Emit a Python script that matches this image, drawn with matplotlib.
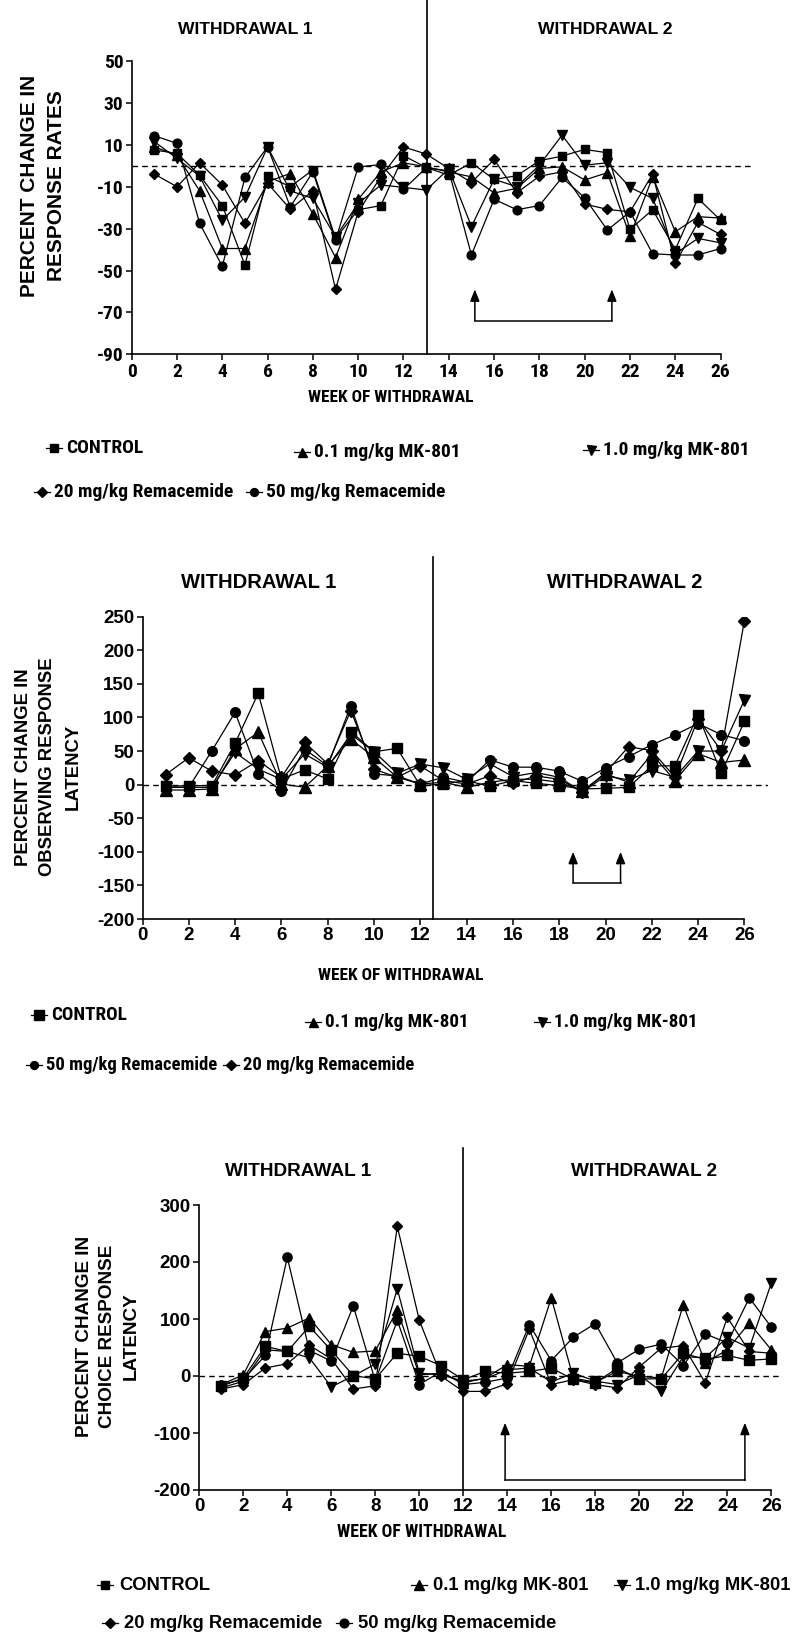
import matplotlib
matplotlib.use('Agg')
import matplotlib.pyplot as plt
from matplotlib import font_manager
import numpy as np

# ---- data ----
weeks = np.arange(1, 27)
labels = ['CONTROL', '0.1 mg/kg MK-801', '1.0 mg/kg MK-801',
          '20 mg/kg Remacemide', '50 mg/kg Remacemide']

# percent change in response rates
rate_control = [7.5, 5.9, -4.5, -19, -47.4, -5, -10, -2, -34.7, -21, -19, 4.8, -0.8,
                -4.5, 1.4, -6.5, -4.8, 2.4, 4.6, 7.8, 6.2, -30.4, -21, -40, -15.6, -26]
rate_mk01 = [9, 5, -12, -39.5, -39.5, -7.6, -3.7, -23, -43.8, -16, -2.9, 1.4, -0.5,
             -3, -5.3, -13, -10.8, -1.3, -0.5, -6.8, -3.3, -33.6, -5.3, -31.5, -24.3, -25]
rate_mk10 = [11.5, 3.5, -5, -26, -15, 9, -12, -15.6, -34, -18, -9.2, -10.3, -11.6,
             -1.5, -29, -6.5, -10, 0.3, 14.6, 0.3, 1.4, -10.3, -15.6, -42, -34.7, -36.8]
rate_rem20 = [-4, -10, 1.4, -9.2, -27.5, -8.4, -20.7, -12, -59, -22, -5.3, 9, 5.6,
              -1.3, -8, 3, -12.9, -5, -2.9, -18.3, -20.8, -22, -4, -46.6, -27, -32.8]
rate_rem50 = [14.3, 10.7, -27.5, -48, -5.6, 9, -19.6, -3, -35.5, -0.6, 0.6, -11.3, -1,
              -2.4, -42.6, -16, -21, -19, -5.6, -15.3, -30.7, -22, -42, -42.6, -42.6, -39.5]

# percent change in observing response latency
obs_control = [-2.5, -1.5, -1.5, 61.5, 136, 8.4, 22, 8.4, 79, 49, 54, -1.5, 1,
               6, -2.5, 6, 2, -1.5, -6.4, -5.5, -4, 28, 28, 104, 17, 94]
obs_mk01 = [-8, -8, -6.4, 53, 78, 1, -4, 28, 68, 40.7, 11, 1, 3.5,
            -4, 3.5, 8, 8, 3.5, -9, 16, 3.5, 45.6, 6, 46, 33, 36.7]
obs_mk10 = [-4, -4, -4, 48, 23, 8, 45.6, 26, 75, 49, 17, 30.7, 25,
            8, 31, 12, 18, 11, -11, 13, 7, 21, 11, 50, 50, 126]
obs_rem20 = [15, 40, 20, 14.4, 35.7, 11, 63, 31, 110, 23, 11, 28, 6,
             1, 13, 2, 13, 8, -11, 18, 56.5, 50.6, 11, 98, 50.6, 244]
obs_rem50 = [-4, -4, 50.6, 107.6, 16, -9, 53, 28, 117.6, 16, 13, 1, 11,
             3.5, 37, 26, 26, 20, 5, 25, 41.7, 59.5, 74, 91, 74.4, 65.5]

# percent change in choice response latency
cho_control = [-18, -3.5, 52, 43, 87, 45, 0.6, -5, 40, 34.5, 18, -6.4, 8,
               5, 8, 14, -6, -12, 14, -5, -5, 40, 29, 36, 27.5, 30]
cho_mk01 = [-15, 2, 78, 84, 102, 55, 41.5, 44, 116, 2, 5, -12, -3.5,
            20, 17, 137, -3.5, -11, 8, -0.6, -3.5, 125, 23, 46, 93, 46]
cho_mk10 = [-21, -9, 46, 43, 32, -19, 0, 21, 153, 5, 2, -9, -5,
            11, 14, -10.5, 5, -9, -15, 2, -27, 34, 32, 68, 49, 163]
cho_rem20 = [-23, -15, 14, 21.6, 54, 30, -23, -17, 262.6, 97.7, -0.6, -27, -27,
             -13.5, 82, -15, -6.4, -15, -21, 16, 49, 53, -12, 103, 43, 40]
cho_rem50 = [-15, -6, 36, 208, 45, 26, 123, -9, 97.7, -15, 8, -15, -11,
             -3.5, 90, 27, 68, 92, 23, 47, 56, 18, 74, 58, 137, 86]

# withdrawal split and treatment brackets
split_weeks = [13.05, 12.55, 12.0]
bracket_weeks = [(15.15, 21.2), (18.6, 20.65), (13.9, 24.8)]
bracket_vals = [(-74, -59), (-146, -100), (-183, -82)]

# ---- fonts ----
plt.rcParams['axes.unicode_minus'] = False
W, H = 801, 1636
names = {f.name for f in font_manager.fontManager.ttflist}
REG = 'Liberation Sans' if 'Liberation Sans' in names else 'DejaVu Sans'


def find_condensed():
    found = {}
    for f in font_manager.fontManager.ttflist:
        st = str(f.stretch)
        if 'Narrow' in f.name or 'Condensed' in f.name or 'condensed' in st:
            found.setdefault(f.name, set()).add(st)
    prefs = ['Liberation Sans Narrow', 'Arial Narrow', 'Nimbus Sans Narrow', 'Roboto Condensed',
             'Noto Sans Condensed', 'Open Sans Condensed', 'Noto Sans', 'Open Sans', 'DejaVu Sans Condensed',
             'DejaVu Sans']
    for p in prefs:
        if p in found:
            st = next((s for s in found[p] if 'condensed' in s), 'normal')
            return p, st
    return None, 'normal'


NAR, NST = find_condensed()
if NAR is None:
    NAR, NST = ('Lato' if 'Lato' in names else REG), 'normal'
    nar_scale = 0.9
else:
    nar_scale = 1.0

mk = ['s', '^', 'v', 'D', 'o']
msz = {'s': 6.3, '^': 7.2, 'v': 7.2, 'D': 5.2, 'o': 6.3}

fig = plt.figure(figsize=(W / 100, H / 100), dpi=100)


def panel(x0, xs, ytop, ybot, ylim, yticks, xmax, narrow, ticksize, data, split, bw, bv, vtop, ms):
    ax = fig.add_axes([x0 / W, 1 - ybot / H, xmax * xs / W, (ybot - ytop) / H])
    ax.set_xlim(0, xmax)
    ax.set_ylim(*ylim)
    for s in ['top', 'right']:
        ax.spines[s].set_visible(False)
    ax.spines['left'].set_linewidth(1.2)
    ax.spines['bottom'].set_linewidth(1.2)
    ax.spines['bottom'].set_bounds(0, 26)
    ax.set_xticks(range(0, 27, 2))
    ax.set_yticks(yticks)
    ax.tick_params(direction='out', length=4, width=1.1, pad=2, labelsize=ticksize)
    for t in ax.get_xticklabels() + ax.get_yticklabels():
        if narrow:
            t.set_fontfamily(NAR)
            t.set_fontstretch(NST)
        else:
            t.set_fontfamily(REG)
        t.set_fontweight('bold')
    ax.axhline(0, color='black', lw=1, ls=(0, (4, 3)), zorder=1)
    for vals, m in zip(data, mk):
        ax.plot(weeks, vals, color='black', lw=0.9, marker=m, ms=msz[m] * ms,
                mfc='black', mec='black', zorder=3)
    ax.plot([split, split], [ylim[0], vtop], color='black', lw=1.2, clip_on=False, zorder=2)
    for xw in bw:
        ax.annotate('', xy=(xw, bv[1]), xytext=(xw, bv[0]),
                    arrowprops=dict(arrowstyle='-|>,head_length=0.7,head_width=0.28',
                                    color='black', lw=1.1, shrinkA=0, shrinkB=0))
    ax.plot(bw, [bv[0], bv[0]], color='black', lw=1.1)
    return ax


panel(131.7, 22.65, 61, 354.3, (-90, 50), range(-90, 51, 20), 27.4, True, 14 * nar_scale,
      [rate_control, rate_mk01, rate_mk10, rate_rem20, rate_rem50],
      split_weeks[0], bracket_weeks[0], bracket_vals[0], 79, 1.0)
panel(142.5, 23.15, 616.7, 919, (-200, 250), range(-200, 251, 50), 27.0, False, 13.5,
      [obs_control, obs_mk01, obs_mk10, obs_rem20, obs_rem50],
      split_weeks[1], bracket_weeks[1], bracket_vals[1], 339, 1.1)
panel(199.3, 22.0, 1205, 1490, (-200, 300), range(-200, 301, 100), 26.4, False, 13.5,
      [cho_control, cho_mk01, cho_mk10, cho_rem20, cho_rem50],
      split_weeks[2], bracket_weeks[2], bracket_vals[2], 400, 1.05)

# ---- overlay for titles, axis labels and legends (pixel coords) ----
lay = fig.add_axes([0, 0, 1, 1])
lay.set_xlim(0, W)
lay.set_ylim(H, 0)
lay.axis('off')


def txt(x, y, s, size, narrow=False, **kw):
    if narrow:
        lay.text(x, y, s, fontsize=size * nar_scale, family=NAR, stretch=NST, weight='bold',
                 va='center', **kw)
    else:
        lay.text(x, y, s, fontsize=size, family=REG, weight='bold', va='center', **kw)


# titles
txt(245, 29, 'WITHDRAWAL 1', 12.6, ha='center')
txt(605, 29, 'WITHDRAWAL 2', 12.6, ha='center')
txt(259, 582, 'WITHDRAWAL 1', 14.5, ha='center')
txt(625, 582, 'WITHDRAWAL 2', 14.5, ha='center')
txt(298, 1172, 'WITHDRAWAL 1', 13.7, ha='center')
txt(644, 1172, 'WITHDRAWAL 2', 13.7, ha='center')

# x labels
txt(391, 398, 'WEEK OF WITHDRAWAL', 12.5, True, ha='center')
txt(401, 975, 'WEEK OF WITHDRAWAL', 12.5, True, ha='center')
txt(422, 1532, 'WEEK OF WITHDRAWAL', 12.8, True, ha='center')

# y labels
txt(43, 186, 'PERCENT CHANGE IN\nRESPONSE RATES', 15, ha='center',
    rotation=90, linespacing=1.5)
txt(48, 767, 'PERCENT CHANGE IN\nOBSERVING RESPONSE\nLATENCY', 13.3, ha='center',
    rotation=90, linespacing=1.6)
txt(108, 1336, 'PERCENT CHANGE IN\nCHOICE RESPONSE\nLATENCY', 13.6, ha='center',
    rotation=90, linespacing=1.48)


def leg(xm, y, i, text, size, narrow, ms=1.0, gap=12):
    lay.plot([xm - 8, xm + 8], [y, y], color='black', lw=0.9)
    lay.plot([xm], [y], marker=mk[i], ms=msz[mk[i]] * ms, color='black')
    txt(xm + gap, y, text, size, narrow, ha='left')


# legend panel 1
leg(54, 448, 0, labels[0], 14, True, 0.9)
leg(302, 452, 1, labels[1], 14, True, 0.9)
leg(591, 450, 2, labels[2], 14, True, 0.9)
leg(42, 492, 3, labels[3], 14, True, 0.9)
leg(254, 492, 4, labels[4], 14, True, 0.9)
# legend panel 2
leg(39, 1015, 0, labels[0], 13.8, True, 1.1)
leg(313, 1022, 1, labels[1], 13.8, True, 0.9)
leg(542, 1022, 2, labels[2], 13.8, True, 0.9)
leg(34, 1065, 4, labels[4], 13.4, True, 0.9)
leg(231, 1065, 3, labels[3], 13.4, True, 0.9)
# legend panel 3
leg(105, 1585, 0, labels[0], 13.2, False, 1.0, 14)
leg(419, 1585, 1, labels[1], 13.2, False, 1.0, 14)
leg(622, 1585, 2, labels[2], 13.2, False, 1.0, 13)
leg(110, 1623, 3, labels[3], 13.2, False, 1.0, 14)
leg(344, 1623, 4, labels[4], 13.2, False, 1.0, 14)

fig.savefig('out.png', dpi=100)
